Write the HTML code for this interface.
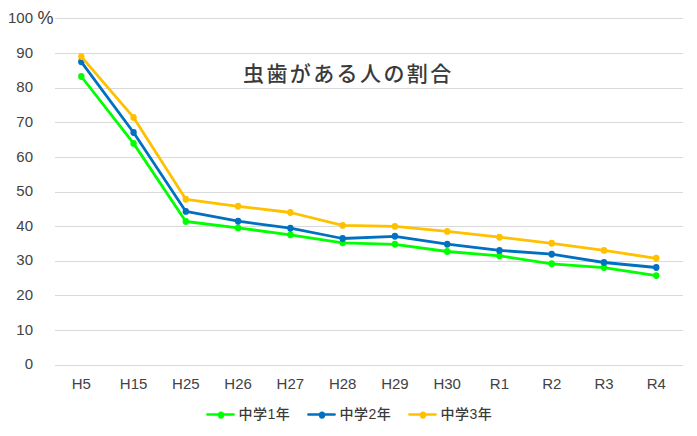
<!DOCTYPE html>
<html lang="ja"><head><meta charset="utf-8"><title>Chart</title>
<style>
html,body{margin:0;padding:0;background:#fff;font-family:"Liberation Sans",sans-serif;}
body{width:697px;height:436px;overflow:hidden;}
svg{display:block;}
</style></head><body>
<svg width="697" height="436" viewBox="0 0 697 436">
<title>虫歯がある人の割合</title><desc>中学1年 中学2年 中学3年 H5 H15 H25 H26 H27 H28 H29 H30 R1 R2 R3 R4 0-100 %</desc>
<rect width="697" height="436" fill="#fff"/>
<g fill="#d9d9d9" shape-rendering="crispEdges">
<rect x="55" y="18" width="628" height="1"/>
<rect x="55" y="53" width="628" height="1"/>
<rect x="55" y="88" width="628" height="1"/>
<rect x="55" y="122" width="628" height="1"/>
<rect x="55" y="157" width="628" height="1"/>
<rect x="55" y="192" width="628" height="1"/>
<rect x="55" y="226" width="628" height="1"/>
<rect x="55" y="261" width="628" height="1"/>
<rect x="55" y="295" width="628" height="1"/>
<rect x="55" y="330" width="628" height="1"/>
<rect x="55" y="365" width="628" height="1"/>
</g>
<g fill="#00ff00" stroke="none"><polyline points="81.3,76.5 133.57,143.4 185.84,221.5 238.11,227.9 290.38,234.8 342.65,242.8 394.92,244.3 447.19,251.5 499.46,255.8 551.73,263.8 604,267.6 656.27,275.6" fill="none" stroke="#00ff00" stroke-width="2.8" stroke-linejoin="round" stroke-linecap="round"/>
<ellipse cx="81.3" cy="76.5" rx="3.2" ry="3.45"/>
<ellipse cx="133.57" cy="143.4" rx="3.2" ry="3.45"/>
<ellipse cx="185.84" cy="221.5" rx="3.2" ry="3.45"/>
<ellipse cx="238.11" cy="227.9" rx="3.2" ry="3.45"/>
<ellipse cx="290.38" cy="234.8" rx="3.2" ry="3.45"/>
<ellipse cx="342.65" cy="242.8" rx="3.2" ry="3.45"/>
<ellipse cx="394.92" cy="244.3" rx="3.2" ry="3.45"/>
<ellipse cx="447.19" cy="251.5" rx="3.2" ry="3.45"/>
<ellipse cx="499.46" cy="255.8" rx="3.2" ry="3.45"/>
<ellipse cx="551.73" cy="263.8" rx="3.2" ry="3.45"/>
<ellipse cx="604" cy="267.6" rx="3.2" ry="3.45"/>
<ellipse cx="656.27" cy="275.6" rx="3.2" ry="3.45"/>
</g>
<g fill="#0070c0" stroke="none"><polyline points="81.3,61.8 133.57,132.5 185.84,211.4 238.11,221.2 290.38,228.2 342.65,238.5 394.92,236.3 447.19,244.2 499.46,250.4 551.73,254.2 604,262.5 656.27,267.5" fill="none" stroke="#0070c0" stroke-width="2.8" stroke-linejoin="round" stroke-linecap="round"/>
<ellipse cx="81.3" cy="61.8" rx="3.2" ry="3.45"/>
<ellipse cx="133.57" cy="132.5" rx="3.2" ry="3.45"/>
<ellipse cx="185.84" cy="211.4" rx="3.2" ry="3.45"/>
<ellipse cx="238.11" cy="221.2" rx="3.2" ry="3.45"/>
<ellipse cx="290.38" cy="228.2" rx="3.2" ry="3.45"/>
<ellipse cx="342.65" cy="238.5" rx="3.2" ry="3.45"/>
<ellipse cx="394.92" cy="236.3" rx="3.2" ry="3.45"/>
<ellipse cx="447.19" cy="244.2" rx="3.2" ry="3.45"/>
<ellipse cx="499.46" cy="250.4" rx="3.2" ry="3.45"/>
<ellipse cx="551.73" cy="254.2" rx="3.2" ry="3.45"/>
<ellipse cx="604" cy="262.5" rx="3.2" ry="3.45"/>
<ellipse cx="656.27" cy="267.5" rx="3.2" ry="3.45"/>
</g>
<g fill="#ffc000" stroke="none"><polyline points="81.3,56.6 133.57,117.4 185.84,199.3 238.11,206.3 290.38,212.5 342.65,225.4 394.92,226.4 447.19,231.4 499.46,237.2 551.73,243.3 604,250.4 656.27,258.3" fill="none" stroke="#ffc000" stroke-width="2.8" stroke-linejoin="round" stroke-linecap="round"/>
<ellipse cx="81.3" cy="56.6" rx="3.2" ry="3.45"/>
<ellipse cx="133.57" cy="117.4" rx="3.2" ry="3.45"/>
<ellipse cx="185.84" cy="199.3" rx="3.2" ry="3.45"/>
<ellipse cx="238.11" cy="206.3" rx="3.2" ry="3.45"/>
<ellipse cx="290.38" cy="212.5" rx="3.2" ry="3.45"/>
<ellipse cx="342.65" cy="225.4" rx="3.2" ry="3.45"/>
<ellipse cx="394.92" cy="226.4" rx="3.2" ry="3.45"/>
<ellipse cx="447.19" cy="231.4" rx="3.2" ry="3.45"/>
<ellipse cx="499.46" cy="237.2" rx="3.2" ry="3.45"/>
<ellipse cx="551.73" cy="243.3" rx="3.2" ry="3.45"/>
<ellipse cx="604" cy="250.4" rx="3.2" ry="3.45"/>
<ellipse cx="656.27" cy="258.3" rx="3.2" ry="3.45"/>
</g>
<g font-family="&quot;Liberation Sans&quot;, sans-serif" font-size="15" fill="#424242" text-anchor="end">
<text x="33" y="22.65">100</text>
<text x="33" y="57.65">90</text>
<text x="33" y="91.65">80</text>
<text x="33" y="126.65">70</text>
<text x="33" y="161.65">60</text>
<text x="33" y="195.65">50</text>
<text x="33" y="230.65">40</text>
<text x="33" y="264.65">30</text>
<text x="33" y="299.65">20</text>
<text x="33" y="334.65">10</text>
<text x="33" y="368.65">0</text>
</g>
<text x="37.5" y="24" font-family="&quot;Liberation Sans&quot;, sans-serif" font-size="18" fill="#3a3a3a">%</text>
<g font-family="&quot;Liberation Sans&quot;, sans-serif" font-size="15" fill="#424242" text-anchor="middle">
<text x="81.3" y="388.7">H5</text>
<text x="133.57" y="388.7">H15</text>
<text x="185.84" y="388.7">H25</text>
<text x="238.11" y="388.7">H26</text>
<text x="290.38" y="388.7">H27</text>
<text x="342.65" y="388.7">H28</text>
<text x="394.92" y="388.7">H29</text>
<text x="447.19" y="388.7">H30</text>
<text x="499.46" y="388.7">R1</text>
<text x="551.73" y="388.7">R2</text>
<text x="604" y="388.7">R3</text>
<text x="656.27" y="388.7">R4</text>
</g>
<text x="243" y="80.5" font-family="&quot;Liberation Sans&quot;, &quot;Noto Sans CJK JP&quot;, sans-serif" font-size="21" font-weight="500" letter-spacing="2.4" fill="#3a3a3a">虫歯がある人の割合</text>
<line x1="207.5" y1="414.5" x2="233.5" y2="414.5" stroke="#00ff00" stroke-width="2.7" stroke-linecap="round"/>
<ellipse cx="221" cy="415.1" rx="3.2" ry="3.6" fill="#00ff00"/>
<line x1="308.5" y1="414.5" x2="334.5" y2="414.5" stroke="#0070c0" stroke-width="2.7" stroke-linecap="round"/>
<ellipse cx="322" cy="415.1" rx="3.2" ry="3.6" fill="#0070c0"/>
<line x1="409.5" y1="414.5" x2="435.5" y2="414.5" stroke="#ffc000" stroke-width="2.7" stroke-linecap="round"/>
<ellipse cx="423" cy="415.1" rx="3.2" ry="3.6" fill="#ffc000"/>
<g font-family="&quot;Liberation Sans&quot;, &quot;Noto Sans CJK JP&quot;, sans-serif" font-size="14" font-weight="500" letter-spacing="0.5" fill="#3a3a3a">
<text x="238.5" y="418.5">中学1年</text>
<text x="339.5" y="418.5">中学2年</text>
<text x="440.5" y="418.5">中学3年</text>
</g>
</svg>
</body></html>
